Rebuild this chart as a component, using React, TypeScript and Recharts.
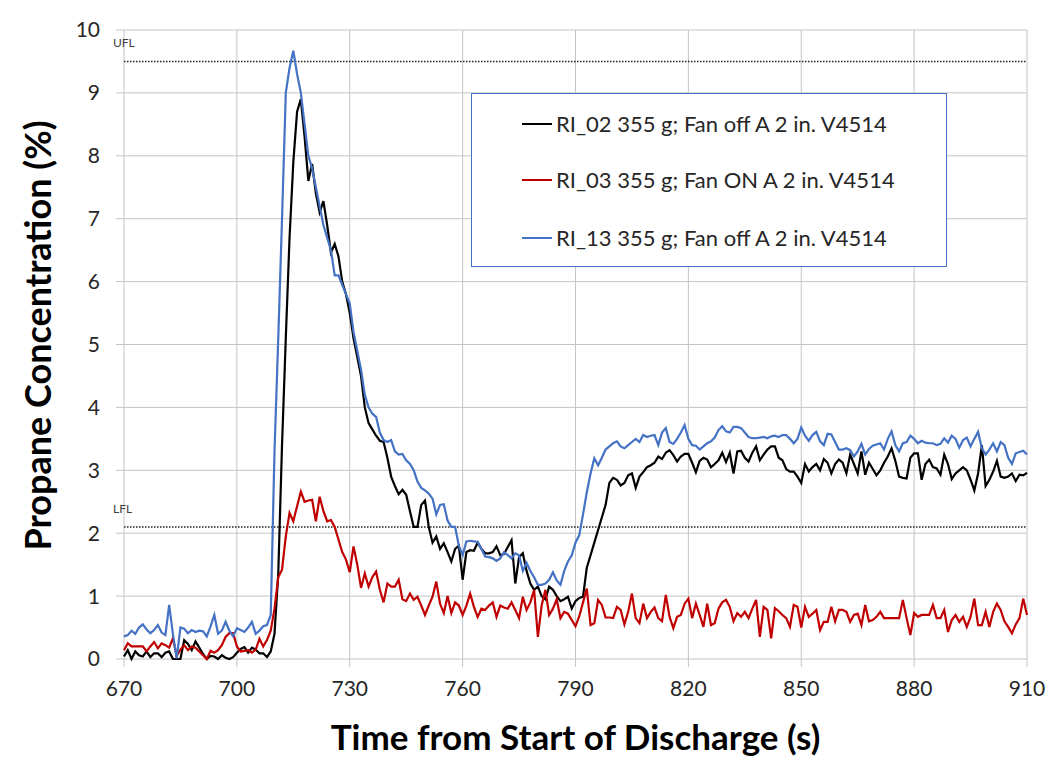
import React from 'react'
import { LineChart, Line, XAxis, YAxis, CartesianGrid, ReferenceLine, Label } from 'recharts'

// sampled once per second from 670 s to 910 s
const START = 670
const X_TICKS = [670, 700, 730, 760, 790, 820, 850, 880, 910]
const Y_TICKS = [0, 1, 2, 3, 4, 5, 6, 7, 8, 9, 10]

const RI_02 = [
  0.04, 0.14, 0.0, 0.12, 0.06, 0.04, 0.12, 0.03, 0.09, 0.09,
  0.03, 0.10, 0.12, 0.0, 0.0, 0.0, 0.30, 0.24, 0.14, 0.28,
  0.18, 0.08, 0.0, 0.05, 0.04, 0.0, 0.06, 0.02, 0.0, 0.03,
  0.10, 0.16, 0.19, 0.10, 0.18, 0.15, 0.09, 0.09, 0.03, 0.12,
  0.4, 1.36, 3.4, 5.1, 6.7, 7.9, 8.7, 8.9, 8.3, 7.6,
  7.87, 7.4, 7.1, 7.28, 6.9, 6.46, 6.6, 6.4, 6.0, 5.8,
  5.5, 5.1, 4.8, 4.5, 4.0, 3.75, 3.65, 3.55, 3.47, 3.45,
  3.2, 2.9, 2.75, 2.62, 2.69, 2.61, 2.35, 2.1, 2.1, 2.45,
  2.52, 2.1, 1.85, 1.95, 1.75, 1.84, 1.7, 1.55, 1.75, 1.8,
  1.26, 1.7, 1.73, 1.72, 1.85, 1.75, 1.68, 1.68, 1.7, 1.79,
  1.65, 1.67, 1.78, 1.89, 1.2, 1.62, 1.68, 1.4, 1.2, 1.1,
  1.15, 1.0, 0.95, 1.15, 1.1, 1.0, 0.92, 0.95, 0.99, 0.8,
  0.92, 0.97, 0.99, 1.45, 1.65, 1.85, 2.05, 2.25, 2.45, 2.8,
  2.88, 2.85, 2.76, 2.8, 2.92, 2.95, 2.72, 2.9, 2.97, 3.05,
  3.08, 3.12, 3.22, 3.18, 3.28, 3.32, 3.24, 3.14, 3.22, 3.26,
  3.26, 3.12, 2.97, 3.15, 3.2, 3.17, 3.05, 3.1, 3.16, 3.28,
  3.13, 3.28, 2.95, 3.3, 3.31, 3.2, 3.14, 3.28, 3.38, 3.16,
  3.25, 3.33, 3.38, 3.38, 3.2, 3.16, 3.02, 2.98, 2.98, 2.9,
  2.8, 3.1, 2.98, 3.05, 3.1, 3.0, 3.18, 3.12, 2.95, 3.1,
  3.17, 3.12, 2.95, 3.25, 3.1, 2.95, 3.3, 2.93, 3.12, 3.02,
  2.92, 3.0, 3.12, 3.22, 3.35, 3.15, 2.9, 2.88, 2.87, 3.2,
  3.27, 3.27, 2.85, 3.1, 3.17, 3.05, 3.03, 2.93, 3.25, 3.1,
  2.86, 2.95, 3.0, 3.05, 3.0, 2.85, 2.68, 2.95, 3.4, 2.75,
  2.85, 2.98, 3.15, 2.9, 2.88, 2.9, 2.95, 2.83, 2.93, 2.92,
  2.96,
]

const RI_03 = [
  0.14, 0.25, 0.20, 0.20, 0.20, 0.20, 0.12, 0.20, 0.27, 0.17,
  0.25, 0.22, 0.18, 0.33, 0.05, 0.15, 0.22, 0.14, 0.20, 0.18,
  0.12, 0.06, 0.0, 0.13, 0.10, 0.14, 0.22, 0.35, 0.41, 0.41,
  0.20, 0.12, 0.13, 0.14, 0.10, 0.15, 0.32, 0.20, 0.30, 0.45,
  0.8, 1.3, 1.42, 1.95, 2.32, 2.19, 2.43, 2.66, 2.5, 2.52,
  2.53, 2.19, 2.58, 2.35, 2.19, 2.21, 2.1, 1.9, 1.7, 1.58,
  1.38, 1.79, 1.5, 1.13, 1.36, 1.15, 1.3, 1.39, 1.1, 0.9,
  1.2, 1.15, 1.15, 1.26, 0.95, 0.92, 1.04, 0.94, 0.99, 0.85,
  0.7, 0.85, 0.99, 1.23, 0.88, 0.73, 1.0, 0.73, 0.9, 0.85,
  0.7, 0.85, 1.04, 0.83, 0.67, 0.8, 0.78, 0.85, 0.9, 0.67,
  0.85, 0.82, 0.8, 0.9, 0.78, 0.65, 0.99, 0.78, 0.9, 1.1,
  0.35, 0.85, 1.1, 0.7, 0.8, 0.95, 0.65, 0.75, 0.72, 0.62,
  0.52, 0.68, 0.9, 1.12, 0.54, 0.57, 0.94, 0.86, 0.66, 0.66,
  0.65, 0.83, 0.78, 0.55, 0.75, 1.04, 0.65, 0.57, 0.88, 0.65,
  0.75, 0.82, 0.65, 0.6, 1.02, 0.67, 0.49, 0.67, 0.7, 0.88,
  0.96, 0.65, 0.88, 0.7, 0.51, 0.88, 0.54, 0.57, 0.8, 0.9,
  0.94, 0.83, 0.6, 0.73, 0.67, 0.75, 0.65, 0.8, 0.94, 0.35,
  0.83, 0.78, 0.33, 0.81, 0.76, 0.7, 0.65, 0.51, 0.86, 0.83,
  0.5, 0.83, 0.67, 0.72, 0.78, 0.46, 0.59, 0.59, 0.83, 0.6,
  0.78, 0.78, 0.75, 0.59, 0.7, 0.72, 0.54, 0.86, 0.6, 0.62,
  0.67, 0.75, 0.65, 0.65, 0.65, 0.65, 0.65, 0.94, 0.65, 0.38,
  0.73, 0.67, 0.7, 0.7, 0.7, 0.86, 0.65, 0.65, 0.78, 0.43,
  0.62, 0.7, 0.59, 0.67, 0.51, 0.67, 0.96, 0.54, 0.54, 0.75,
  0.51, 0.75, 0.88, 0.78, 0.6, 0.51, 0.41, 0.55, 0.65, 0.96,
  0.7,
]

const RI_13 = [
  0.36, 0.38, 0.45, 0.40, 0.50, 0.55, 0.47, 0.41, 0.46, 0.54,
  0.42, 0.38, 0.86, 0.40, 0.01, 0.50, 0.48, 0.41, 0.46, 0.43,
  0.45, 0.44, 0.36, 0.52, 0.70, 0.40, 0.45, 0.59, 0.45, 0.36,
  0.49, 0.46, 0.43, 0.50, 0.59, 0.40, 0.45, 0.52, 0.54, 0.70,
  3.3, 5.1, 7.0, 9.0, 9.4, 9.67, 9.3, 9.0, 8.5, 8.0,
  7.8, 7.5, 7.2, 6.9, 6.7, 6.5, 6.1, 6.1, 5.95, 5.8,
  5.65, 5.2, 4.9, 4.6, 4.2, 4.0, 3.9, 3.85, 3.6, 3.48,
  3.45, 3.48, 3.3, 3.25, 3.26, 3.16, 3.1, 3.0, 2.82, 2.72,
  2.68, 2.63, 2.55, 2.3, 2.45, 2.46, 2.2, 2.1, 2.1, 1.8,
  1.65, 1.87, 1.88, 1.87, 1.86, 1.75, 1.63, 1.62, 1.6, 1.56,
  1.6, 1.7, 1.65, 1.6, 1.68, 1.65, 1.4, 1.53, 1.4, 1.3,
  1.18, 1.18, 1.2, 1.26, 1.38, 1.25, 1.18, 1.4, 1.55, 1.65,
  1.85, 1.97, 2.3, 2.65, 2.95, 3.19, 3.08, 3.2, 3.33, 3.38,
  3.43, 3.46, 3.38, 3.35, 3.4, 3.45, 3.5, 3.45, 3.56, 3.53,
  3.55, 3.56, 3.4, 3.6, 3.67, 3.45, 3.42, 3.5, 3.6, 3.72,
  3.5, 3.4, 3.39, 3.33, 3.38, 3.43, 3.46, 3.52, 3.64, 3.7,
  3.62, 3.6, 3.69, 3.69, 3.67, 3.6, 3.53, 3.51, 3.51, 3.52,
  3.53, 3.51, 3.54, 3.55, 3.53, 3.56, 3.56, 3.5, 3.43, 3.5,
  3.68, 3.55, 3.47, 3.56, 3.61, 3.46, 3.4, 3.58, 3.57, 3.45,
  3.33, 3.33, 3.35, 3.32, 3.22, 3.3, 3.42, 3.25, 3.34, 3.39,
  3.41, 3.43, 3.33, 3.5, 3.62, 3.4, 3.3, 3.43, 3.45, 3.55,
  3.5, 3.43, 3.47, 3.44, 3.43, 3.43, 3.4, 3.42, 3.51, 3.44,
  3.55, 3.5, 3.36, 3.48, 3.52, 3.38, 3.5, 3.61, 3.35, 3.25,
  3.33, 3.43, 3.3, 3.45, 3.4, 3.2, 3.1, 3.27, 3.29, 3.31,
  3.25,
]

const SERIES = [
  { key: 'ri02', name: 'RI_02 355 g; Fan off A 2 in. V4514', color: '#000000' },
  { key: 'ri03', name: 'RI_03 355 g; Fan ON A 2 in. V4514', color: '#c00000' },
  { key: 'ri13', name: 'RI_13 355 g; Fan off A 2 in. V4514', color: '#4472c4' },
]

const UFL = 9.5
const LFL = 2.1

const data = RI_02.map((v, i) => ({
  t: START + i,
  ri02: v,
  ri03: RI_03[i],
  ri13: RI_13[i],
}))

const FONT = 'Lato, "Open Sans", sans-serif'
const GRID = '#c4c4c4'
const TEXT = '#262626'

const limitLabel = (text: string) => (props: any) => {
  const { viewBox } = props
  return (
    <text x={viewBox.x - 11} y={viewBox.y - 14} fontSize={12} fill="#404040" fontFamily={FONT}>
      {text}
    </text>
  )
}

export default function App() {
  return (
    <div style={{ position: 'relative', width: 1040, height: 754, fontFamily: FONT, background: '#fff' }}>
      <LineChart width={1040} height={754} data={data} margin={{ top: 22, right: 21, bottom: 0, left: 0 }}>
        <CartesianGrid stroke={GRID} strokeWidth={1} />
        <XAxis
          dataKey="t"
          type="number"
          domain={[670, 910]}
          ticks={X_TICKS}
          height={103}
          axisLine={false}
          tickLine={{ stroke: GRID }}
          tickSize={8}
          tickMargin={14}
          tick={{ fill: TEXT, fontSize: 21, fontFamily: FONT }}
        >
          <Label
            content={(p: any) => (
              <text
                x={p.viewBox.x + p.viewBox.width / 2}
                y={p.viewBox.y + 91}
                textAnchor="middle"
                fontSize={35}
                fontWeight="bold"
                fill="#000"
                fontFamily={FONT}
              >
                Time from Start of Discharge (s)
              </text>
            )}
          />
        </XAxis>
        <YAxis
          type="number"
          domain={[0, 10]}
          ticks={Y_TICKS}
          width={116}
          axisLine={false}
          tickLine={{ stroke: GRID }}
          tickSize={8}
          tickMargin={16}
          tick={{ fill: TEXT, fontSize: 21, fontFamily: FONT }}
        >
          <Label
            content={(p: any) => {
              const cx = p.viewBox.x + 29
              const cy = p.viewBox.y + p.viewBox.height / 2 - 9
              return (
                <text
                  x={cx}
                  y={cy}
                  transform={`rotate(-90 ${cx} ${cy})`}
                  textAnchor="middle"
                  dominantBaseline="central"
                  fontSize={36}
                  fontWeight="bold"
                  fill="#000"
                  fontFamily={FONT}
                >
                  Propane Concentration (%)
                </text>
              )
            }}
          />
        </YAxis>
        <ReferenceLine y={UFL} stroke="#222" strokeWidth={1.5} strokeDasharray="1.5 1.5" label={limitLabel('UFL')} />
        <ReferenceLine y={LFL} stroke="#222" strokeWidth={1.5} strokeDasharray="1.5 1.5" label={limitLabel('LFL')} />
        {SERIES.map((s) => (
          <Line
            key={s.key}
            type="linear"
            dataKey={s.key}
            name={s.name}
            stroke={s.color}
            strokeWidth={2.2}
            dot={false}
            isAnimationActive={false}
          />
        ))}
      </LineChart>
      <div
        style={{
          position: 'absolute',
          left: 463,
          top: 85,
          width: 476,
          height: 174,
          boxSizing: 'border-box',
          border: '1.5px solid #4472c4',
          background: '#fff',
        }}
      >
        {SERIES.map((s, i) => (
          <div
            key={s.key}
            style={{
              position: 'absolute',
              left: 50,
              top: [30, 86, 144][i] - 14,
              height: 28,
              display: 'flex',
              alignItems: 'center',
              whiteSpace: 'nowrap',
            }}
          >
            <span style={{ display: 'inline-block', width: 30, height: 2, background: s.color, marginRight: 4 }} />
            <span style={{ fontSize: 22, color: TEXT, lineHeight: '28px' }}>{s.name}</span>
          </div>
        ))}
      </div>
      <div
        style={{
          position: 'absolute',
          left: -1,
          top: -1,
          width: 1042,
          height: 756,
          boxSizing: 'border-box',
          border: '1px solid #d0d0d0',
          pointerEvents: 'none',
        }}
      />
    </div>
  )
}
